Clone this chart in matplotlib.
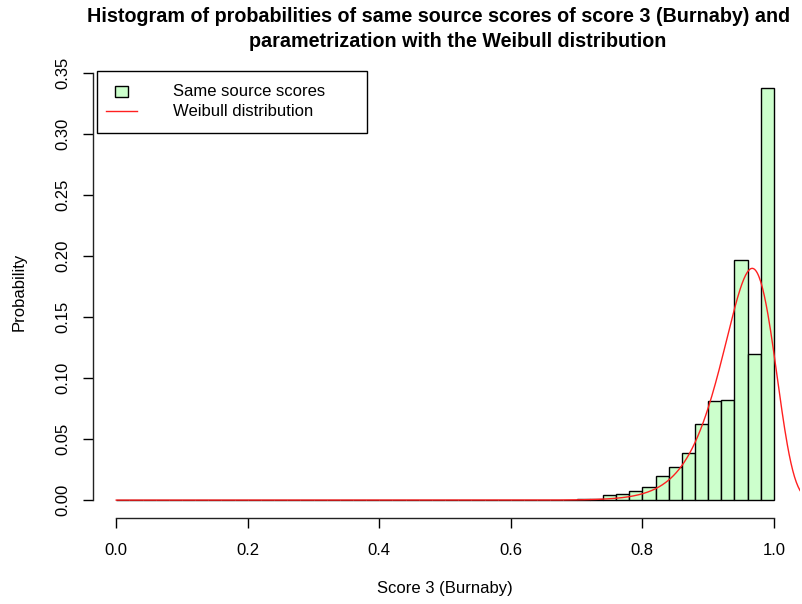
import numpy as np
import matplotlib
matplotlib.use("Agg")
import matplotlib.pyplot as plt
from matplotlib.patches import Rectangle
from matplotlib.lines import Line2D

# ---- data ----
bin_edges = [round(0.02 * i, 2) for i in range(51)]
probabilities = [0.0] * 32 + [
    0.0003, 0.0, 0.0003, 0.0005, 0.0012, 0.0043, 0.0054, 0.0076, 0.0111,
    0.0198, 0.0271, 0.0388, 0.0627, 0.0809, 0.0822, 0.1965, 0.1195, 0.338,
]
weibull_shape = 25.0
weibull_scale = 0.9686
bin_width = 0.02
x_ticks = [0.0, 0.2, 0.4, 0.6, 0.8, 1.0]
y_ticks = [0.00, 0.05, 0.10, 0.15, 0.20, 0.25, 0.30, 0.35]
title_lines = ["Histogram of probabilities of same source scores of score 3 (Burnaby) and",
               "parametrization with the Weibull distribution"]
x_label = "Score 3 (Burnaby)"
y_label = "Probability"
legend_labels = ["Same source scores", "Weibull distribution"]

W, H = 803, 604
plt.rcParams['font.family'] = ['Liberation Sans', 'DejaVu Sans']
fig = plt.figure(figsize=(W / 100, H / 100), dpi=100)

def fx(px):
    return px / W

def fy(py):
    return 1 - py / H

left_px, right_px, top_px, bot_px = 89.9, 800.2, 68.8, 517.7
ax = fig.add_axes([fx(left_px), fy(bot_px), (right_px - left_px) / W, (bot_px - top_px) / H])
ax.set_xlim(-0.04, 1.04)
ax.set_ylim(-0.01443, 0.3537)

lefts = np.array(bin_edges[:-1])
widths = np.diff(bin_edges)
ax.bar(lefts, probabilities, width=widths, align='edge', color='#CCFFCC',
       edgecolor='black', linewidth=1.0, zorder=2)

xs = np.linspace(0, 1.08, 800)
dens = (weibull_shape / weibull_scale) * (xs / weibull_scale) ** (weibull_shape - 1) \
    * np.exp(-(xs / weibull_scale) ** weibull_shape)
ax.plot(xs, dens * bin_width, color='#FF2020', linewidth=1.0, zorder=3)

for s in ['top', 'right']:
    ax.spines[s].set_visible(False)
ax.spines['bottom'].set_bounds(0, 1)
ax.spines['left'].set_bounds(0, 0.35)
ax.spines['left'].set_position(('data', -0.0355))
for s in ['bottom', 'left']:
    ax.spines[s].set_linewidth(1.0)
    ax.spines[s].set_color('#222222')

ax.set_xticks(x_ticks)
ax.set_xticklabels([f"{v:.1f}" for v in x_ticks])
ax.set_yticks(y_ticks)
ax.set_yticklabels([f"{v:.2f}" for v in y_ticks], rotation=90, va='center')
ax.tick_params(axis='x', direction='out', length=7, width=1.0, pad=11.5, labelsize=12)
ax.tick_params(axis='y', direction='out', length=7, width=1.0, pad=9.5, labelsize=12)

fig.text(fx(439), fy(22), title_lines[0], ha='center', va='baseline',
         fontsize=14.2, fontweight='bold')
fig.text(fx(458), fy(47), title_lines[1], ha='center', va='baseline',
         fontsize=14.2, fontweight='bold')
fig.text(fx(445), fy(589), x_label, ha='center', va='center', fontsize=12)
fig.text(fx(19), fy(292), y_label, ha='center', va='center', rotation=90, fontsize=12)

# legend (R style box)
fig.patches.append(Rectangle((fx(97.3), fy(133.3)), (367.3 - 97.3) / W, (133.3 - 71) / H,
                             transform=fig.transFigure, fill=False, edgecolor='black',
                             linewidth=1.0))
fig.patches.append(Rectangle((fx(115), fy(96.7)), 12.7 / W, 11 / H,
                             transform=fig.transFigure, facecolor='#CCFFCC',
                             edgecolor='black', linewidth=1.0))
fig.lines.append(Line2D([fx(106), fx(136.7)], [fy(111), fy(111)],
                        transform=fig.transFigure, color='#FF2020', linewidth=1.0))
fig.text(fx(173.3), fy(91.5), legend_labels[0], ha='left', va='center', fontsize=12)
fig.text(fx(173.3), fy(111.7), legend_labels[1], ha='left', va='center', fontsize=12)

fig.savefig("out.png", dpi=100)
